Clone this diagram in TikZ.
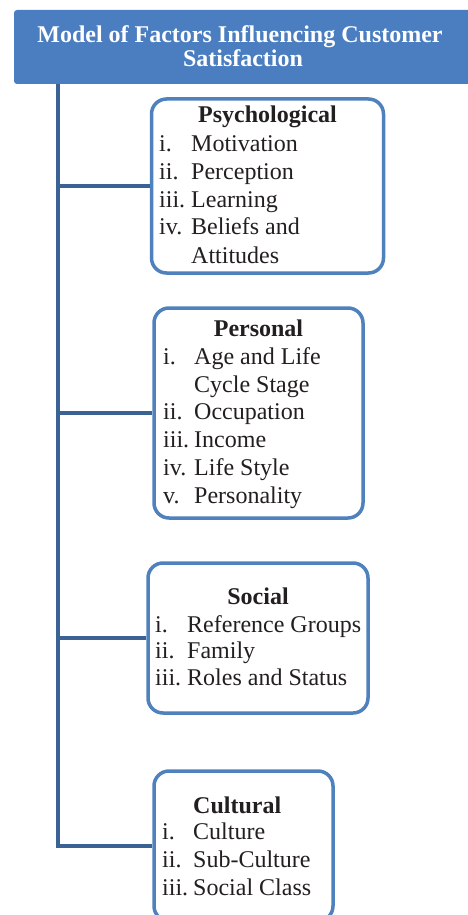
\documentclass[tikz,border=0pt]{standalone}
\usepackage{fontspec}
\setmainfont{Liberation Serif}
\definecolor{hdr}{RGB}{74,126,193}
\definecolor{bord}{RGB}{79,129,189}
\definecolor{trunkc}{RGB}{58,98,148}
\definecolor{txt}{RGB}{35,31,32}
\tikzset{
  lbl/.style={anchor=base west, inner sep=0pt, font=\fontsize{24}{28}\selectfont, text=txt},
  head/.style={anchor=base, inner sep=0pt, font=\fontsize{24}{28}\selectfont\bfseries, text=txt},
  ttl/.style={anchor=base, inner sep=0pt, font=\fontsize{24}{24}\selectfont\bfseries, text=white},
  factbox/.style={draw=bord, line width=3.5pt, fill=white, rounded corners=15pt, inner sep=0pt},
  link/.style={draw=trunkc, line width=4.5pt},
}
\begin{document}
\begin{tikzpicture}[x=1pt,y=-1pt]
\useasboundingbox (0,0) rectangle (468,915);
% header
\node[fill=hdr, rounded corners=3pt, inner sep=0pt, minimum width=461pt, minimum height=74pt] (hdrbox) at (244.5,47) {};
\node[ttl] (t1) at (240,43) {Model of Factors Influencing Customer};
\node[ttl] (t2) at (243,67) {Satisfaction};
% boxes
\node[factbox, minimum width=232pt, minimum height=174pt] (psy) at (267.5,186) {};
\node[factbox, minimum width=209pt, minimum height=210pt] (per) at (258.5,413) {};
\node[factbox, minimum width=220pt, minimum height=150pt] (soc) at (258,638) {};
\node[factbox, minimum width=179pt, minimum height=150pt] (cul) at (243.5,846) {};
% connectors
\coordinate (top) at (58,84);
\draw[link] (top) |- (cul.west);
\draw[link] (psy.west) -- (psy.west -| top);
\draw[link] (per.west) -- (per.west -| top);
\draw[link] (soc.west) -- (soc.west -| top);
% Psychological
\node[head] (psyh) at (267.5,123) {Psychological};
\node[lbl] (p1l) at (159,151) {i.};   \node[lbl] (p1) at (191,151) {Motivation};
\node[lbl] (p2l) at (159,179) {ii.};  \node[lbl] (p2) at (191,179) {Perception};
\node[lbl] (p3l) at (159,207) {iii.}; \node[lbl] (p3) at (191,207) {Learning};
\node[lbl] (p4l) at (159,234) {iv.};  \node[lbl] (p4) at (191,234) {Beliefs and};
\node[lbl] (p5) at (191,263) {Attitudes};
% Personal
\node[head] (perh) at (258.5,336) {Personal};
\node[lbl] (e1l) at (163,364) {i.};   \node[lbl] (e1) at (194,364) {Age and Life};
\node[lbl] (e1b) at (194,392) {Cycle Stage};
\node[lbl] (e2l) at (163,419) {ii.};  \node[lbl] (e2) at (194,419) {Occupation};
\node[lbl] (e3l) at (163,447) {iii.}; \node[lbl] (e3) at (194,447) {Income};
\node[lbl] (e4l) at (163,475) {iv.};  \node[lbl] (e4) at (194,475) {Life Style};
\node[lbl] (e5l) at (163,503) {v.};   \node[lbl] (e5) at (194,503) {Personality};
% Social
\node[head] (soch) at (258,604) {Social};
\node[lbl] (s1l) at (155,632) {i.};   \node[lbl] (s1) at (187,632) {Reference Groups};
\node[lbl] (s2l) at (155,658) {ii.};  \node[lbl] (s2) at (187,658) {Family};
\node[lbl] (s3l) at (155,685) {iii.}; \node[lbl] (s3) at (187,685) {Roles and Status};
% Cultural
\node[head, anchor=base west] (culh) at (193,813) {Cultural};
\node[lbl] (c1l) at (162,839) {i.};   \node[lbl] (c1) at (193,839) {Culture};
\node[lbl] (c2l) at (162,867) {ii.};  \node[lbl] (c2) at (193,867) {Sub-Culture};
\node[lbl] (c3l) at (162,895) {iii.}; \node[lbl] (c3) at (193,895) {Social Class};
\end{tikzpicture}
\end{document}
